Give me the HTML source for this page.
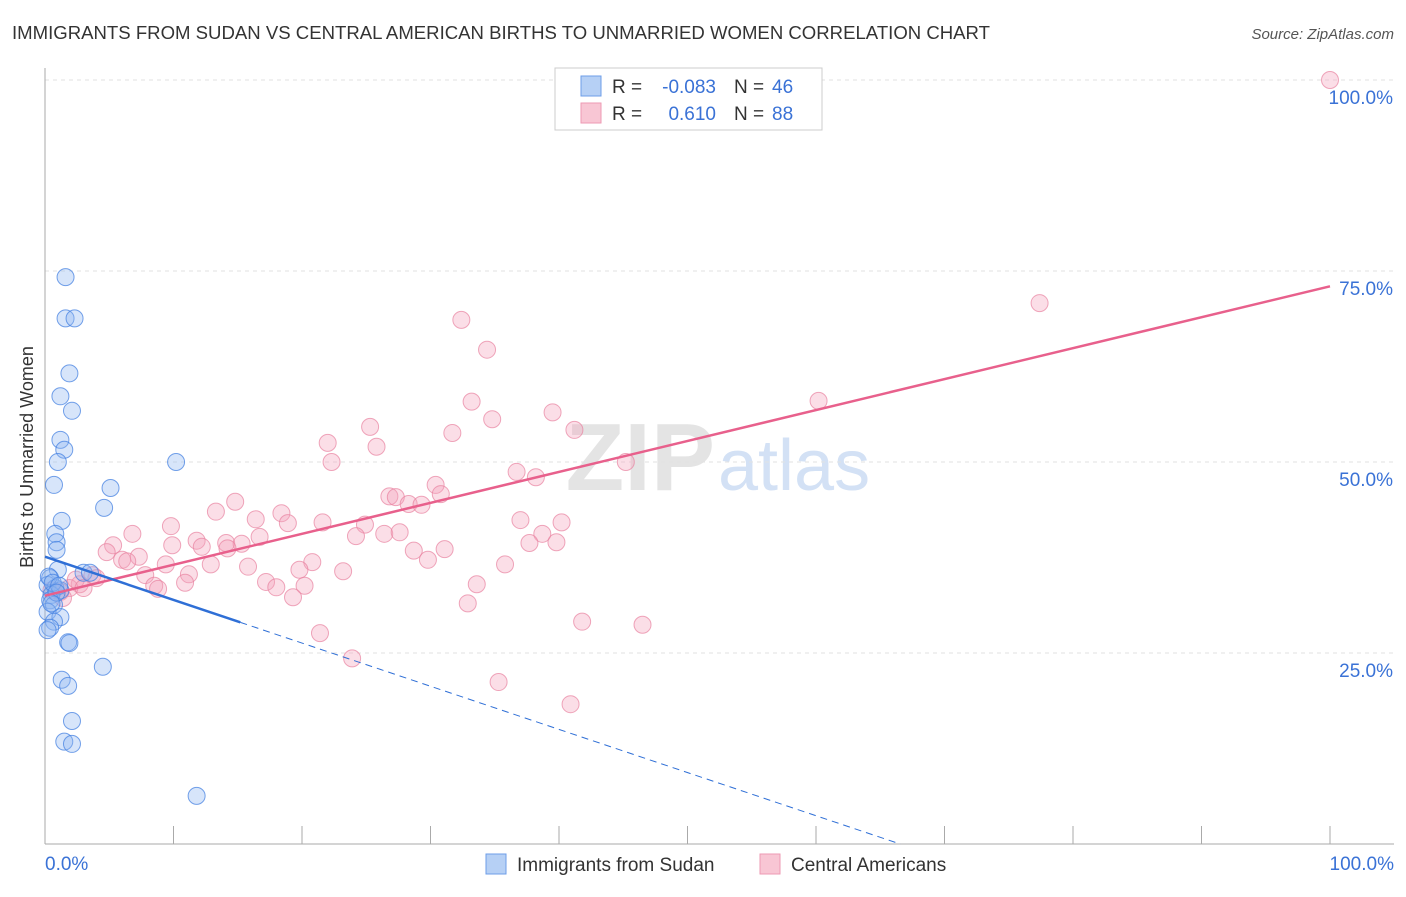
<!DOCTYPE html>
<html><head><meta charset="utf-8"><style>
body{margin:0;background:#fff;font-family:"Liberation Sans",sans-serif;}
svg text{font-family:"Liberation Sans",sans-serif;}
</style></head><body>
<svg width="1406" height="892" viewBox="0 0 1406 892">
<text x="12" y="39" font-size="18" fill="#333" textLength="978" lengthAdjust="spacingAndGlyphs">IMMIGRANTS FROM SUDAN VS CENTRAL AMERICAN BIRTHS TO UNMARRIED WOMEN CORRELATION CHART</text>
<text x="1394" y="39" font-size="15" fill="#555" font-style="italic" text-anchor="end">Source: ZipAtlas.com</text>
<text x="33" y="457" font-size="18" fill="#333" text-anchor="middle" transform="rotate(-90 33 457)">Births to Unmarried Women</text>
<text x="715" y="490" font-size="96" fill="#e4e4e4" text-anchor="end" font-family="Liberation Serif" font-weight="bold">ZIP</text>
<text x="718" y="490" font-size="72" fill="#d3e1f5">atlas</text>
<g id="grid"></g><g id="axes"></g><g id="pink"></g><g id="blue"></g><g id="lines"></g>
<g>
<rect x="555" y="68" width="267" height="62" fill="#fff" stroke="#ccc"/>
<rect x="581" y="76" width="20" height="20" fill="#b6d0f5" stroke="#6d9ee8"/>
<rect x="581" y="103" width="20" height="20" fill="#f8c6d4" stroke="#ee9ab3"/>
<text x="612" y="93" font-size="19" fill="#333">R =</text>
<text x="716" y="93" font-size="19" fill="#3a72d6" text-anchor="end">-0.083</text>
<text x="734" y="93" font-size="19" fill="#333">N =</text>
<text x="772" y="93" font-size="19" fill="#3a72d6">46</text>
<text x="612" y="120" font-size="19" fill="#333">R =</text>
<text x="716" y="120" font-size="19" fill="#3a72d6" text-anchor="end">0.610</text>
<text x="734" y="120" font-size="19" fill="#333">N =</text>
<text x="772" y="120" font-size="19" fill="#3a72d6">88</text>
</g>
<g>
<rect x="486" y="854" width="20" height="20" fill="#b6d0f5" stroke="#6d9ee8"/>
<text x="517" y="871" font-size="19" fill="#333">Immigrants from Sudan</text>
<rect x="760" y="854" width="20" height="20" fill="#f8c6d4" stroke="#ee9ab3"/>
<text x="791" y="871" font-size="19" fill="#333">Central Americans</text>
</g>
</svg>
<script>
const yTicks=[25,50,75,100];
const yTickLabels=["25.0%","50.0%","75.0%","100.0%"];
const blueX=[1.6,1.6,2.3,1.9,1.2,2.1,1.2,1.5,1.0,10.2,0.7,5.1,4.6,1.3,0.8,0.9,0.9,1.0,0.4,0.2,0.8,1.2,0.5,0.4,0.7,0.2,1.2,0.7,0.4,0.2,3.0,3.5,1.8,1.9,4.5,1.3,1.8,2.1,1.5,2.1,11.8,0.3,0.6,1.1,0.9,0.5];
const blueY=[74.2,68.8,68.8,61.6,58.6,56.7,52.9,51.6,50.0,50.0,47.0,46.6,44.0,42.3,40.6,39.5,38.5,35.9,34.8,33.9,33.5,33.2,32.6,31.9,31.3,30.4,29.7,29.1,28.3,28.0,35.5,35.5,26.4,26.3,23.2,21.5,20.7,16.1,13.4,13.1,6.3,35.0,34.2,33.8,32.9,31.5];
const pinkX=[100,77.4,32.4,34.4,60.2,33.2,39.5,34.8,25.3,41.2,31.7,22.0,25.8,22.3,45.2,36.7,38.2,30.4,26.8,27.3,30.8,28.3,29.3,14.8,13.3,18.4,16.4,18.9,21.6,24.9,37.0,40.2,9.8,38.7,26.4,27.6,6.8,24.2,16.7,11.8,14.1,15.3,5.3,9.9,12.2,14.2,37.7,39.8,31.1,28.7,4.8,7.3,6.0,6.4,9.4,29.8,20.8,12.9,15.8,35.8,23.2,19.8,7.8,11.2,3.7,4.0,17.2,18.0,10.9,20.2,33.6,8.5,8.8,2.7,1.9,1.2,1.4,19.3,32.9,41.8,46.5,21.4,23.9,35.3,40.9,2.4,3.0,0.5];
const pinkY=[100,70.8,68.6,64.7,58.0,57.9,56.5,55.6,54.6,54.2,53.8,52.5,52.0,50.0,50.0,48.7,48.0,47.0,45.5,45.4,45.8,44.5,44.4,44.8,43.5,43.3,42.5,42.0,42.1,41.8,42.4,42.1,41.6,40.6,40.6,40.8,40.6,40.3,40.2,39.7,39.4,39.3,39.1,39.1,38.9,38.7,39.4,39.5,38.6,38.4,38.2,37.6,37.2,37.0,36.6,37.2,36.9,36.6,36.3,36.6,35.7,35.9,35.2,35.3,35.2,34.8,34.3,33.6,34.2,33.8,34.0,33.8,33.4,34.0,33.5,33.0,32.2,32.3,31.5,29.1,28.7,27.6,24.3,21.2,18.3,34.6,33.5,33.2];
const blueTrend=[37.6,-0.565];
const pinkTrend=[32.5,0.405];
const NS="http://www.w3.org/2000/svg";
const X=v=>45+v*12.85, Y=v=>844-v*7.64;
function mk(g,t,a){const e=document.createElementNS(NS,t);for(const k in a)e.setAttribute(k,a[k]);document.getElementById(g).appendChild(e);return e;}
yTicks.forEach((t,i)=>{
 const l=mk('grid','line',{x1:45,x2:1394,y1:Y(t),y2:Y(t),stroke:'#e2e2e2','stroke-dasharray':'4,4'});
 
 
 const tx=mk('grid','text',{x:1393,y:Y(t)+24,'font-size':19,fill:'#3a72d6','text-anchor':'end'});
 tx.textContent=yTickLabels[i];
 
 
});
mk('axes','line',{x1:45,x2:45,y1:68,y2:844,stroke:'#aaa'});
mk('axes','line',{x1:45,x2:1394,y1:844,y2:844,stroke:'#aaa'});
for(let i=0;i<=10;i++){const t=mk('axes','line',{x1:45+i*128.5,x2:45+i*128.5,y1:826,y2:844,stroke:'#aaa'});
 
 }
let a=mk('axes','text',{x:45,y:870,'font-size':19,fill:'#3a72d6'});a.textContent='0.0%';


a=mk('axes','text',{x:1394,y:870,'font-size':19,fill:'#3a72d6','text-anchor':'end'});a.textContent='100.0%';


pinkX.forEach((x,i)=>{const c=mk('pink','circle',{cx:X(x),cy:Y(pinkY[i]),r:8.5,fill:'rgba(244,160,185,0.35)',stroke:'rgba(232,130,160,0.7)','stroke-width':1});
 
 });
blueX.forEach((x,i)=>{const c=mk('blue','circle',{cx:X(x),cy:Y(blueY[i]),r:8.5,fill:'rgba(140,180,240,0.35)',stroke:'rgba(70,130,225,0.75)','stroke-width':1});
 
 });
const pe=100;
let l=mk('lines','line',{x1:X(0),y1:Y(pinkTrend[0]),x2:X(pe),y2:Y(pinkTrend[0]+pinkTrend[1]*pe),stroke:'#e8608c','stroke-width':2.5});


const bs=15.2, be=-blueTrend[0]/blueTrend[1];
l=mk('lines','line',{x1:X(0),y1:Y(blueTrend[0]),x2:X(bs),y2:Y(blueTrend[0]+blueTrend[1]*bs),stroke:'#2f6fd6','stroke-width':2.5});


l=mk('lines','line',{x1:X(bs),y1:Y(blueTrend[0]+blueTrend[1]*bs),x2:X(be),y2:Y(0),stroke:'#2f6fd6','stroke-width':1,'stroke-dasharray':'7,5'});


</script>
</body></html>
